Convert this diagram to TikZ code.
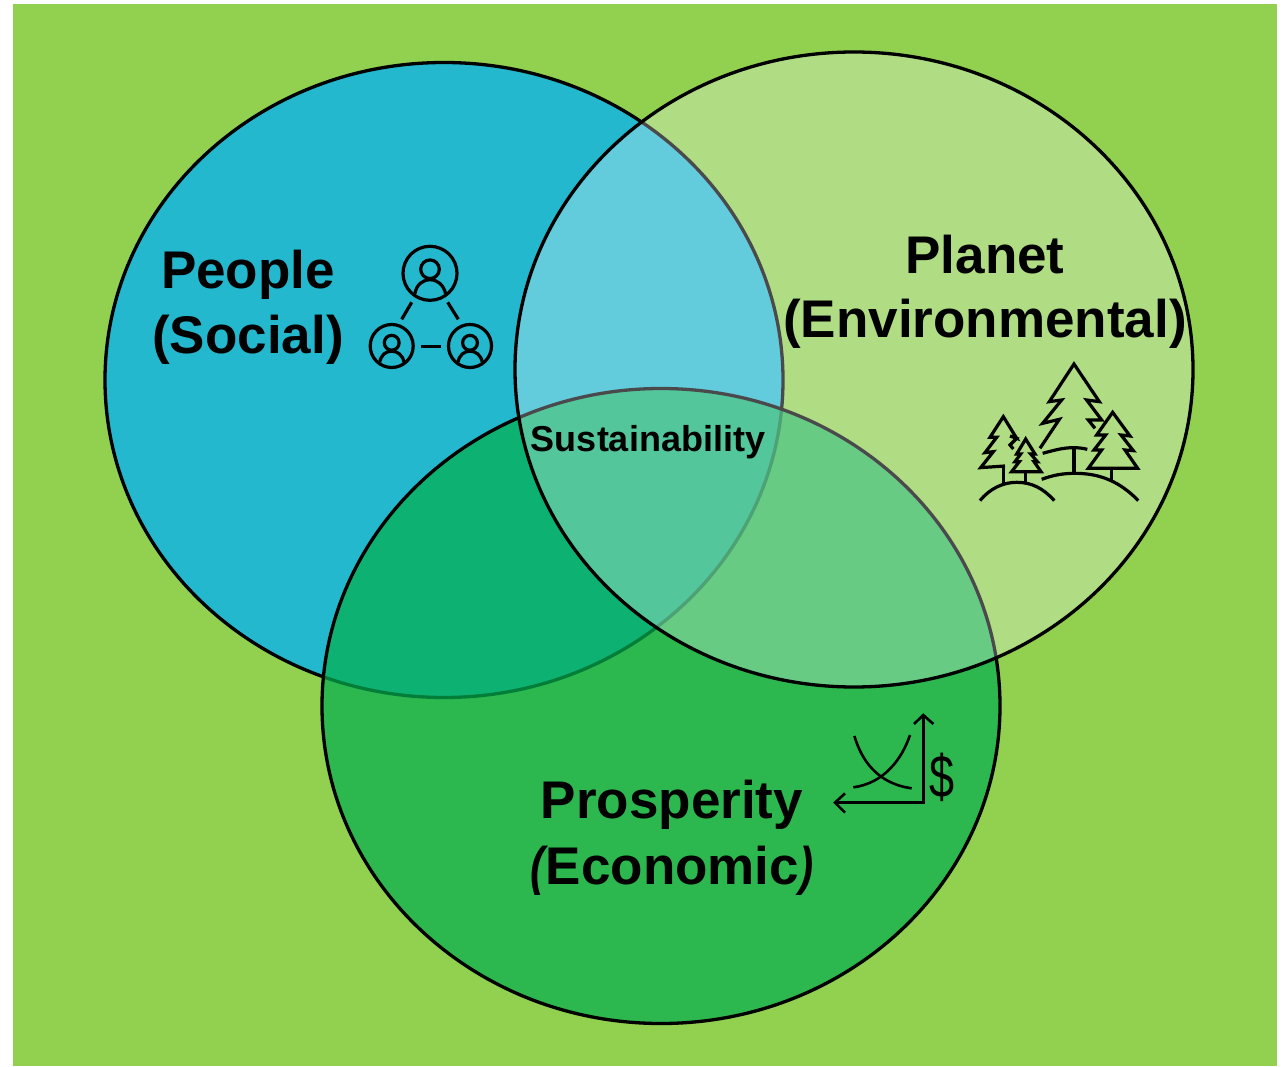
\documentclass[tikz,border=0pt]{standalone}
\usepackage{fontspec}
\setmainfont{Liberation Sans}
\definecolor{bgreen}{HTML}{92D050}
\definecolor{peoplec}{HTML}{23B8CD}
\definecolor{prospc}{HTML}{05AF4E}
\definecolor{planetc}{HTML}{F6F8FF}
\tikzset{
  venn/.style={draw=black,line width=3.3pt},
  title/.style={font=\fontsize{53}{64.5}\selectfont\bfseries,align=center,inner sep=0pt,text=black},
  icon/.style={draw=black,line width=3.2pt,line join=miter,fill=none},
  thin icon/.style={draw=black,line width=2.6pt,fill=none},
  person/.pic={
    \draw[icon] (0,0) circle (1);
    \draw[icon] (0,-.15) circle (.345);
    \draw[icon] (-.56,.76) .. controls (-.5,.42) and (-.28,.24) .. (0,.24) .. controls (.28,.24) and (.5,.42) .. (.58,.76);
  }
}
\begin{document}
\begin{tikzpicture}[x=1pt,y=-1pt]
\useasboundingbox (0,0) rectangle (1288,1067);
\fill[bgreen] (13,4) rectangle (1277,1066);
% circles, in stacking order
\draw[venn,fill=peoplec] (444,380) ellipse [x radius=339,y radius=317.5];
\draw[venn,fill=prospc,fill opacity=.72] (661,706) ellipse [x radius=339,y radius=317.5];
\draw[venn,fill=planetc,fill opacity=.3,draw opacity=1] (854,369.5) ellipse [x radius=339,y radius=317.5];
% labels
\node[title] (people) at (248,307.5) {People\\(Social)};
\node[title] (planet) at (985,292) {Planet\\(Environmental)};
\node[title,font=\fontsize{53}{66}\selectfont\bfseries] (prosperity) at (672,838) {Prosperity\\\scalebox{.8}[1]{\textit{(}}\kern-3pt Economic\scalebox{.8}[1]{\textit{)}}};
\node[font=\fontsize{36}{40}\selectfont\bfseries,inner sep=0pt] (sustain) at (648,442) {Sustainability};
% people icon
\path (430,273.3) pic[x=27pt,y=-27pt] {person};
\path (391.7,346) pic[x=21.5pt,y=-21.5pt] {person};
\path (470,346) pic[x=21.5pt,y=-21.5pt] {person};
\draw[icon] (411.7,302.3) -- (401.7,319.3);
\draw[icon] (447.7,302.3) -- (458.3,319.3);
\draw[icon] (420.7,346.7) -- (441,346.7);
% trees
\begin{scope}[shift={(960,350)},x=.3333pt,y=-.3333pt]
\draw[icon] (240,295) -- (298,208) -- (248,220) -- (305,150) -- (268,155) -- (342,42) -- (418,155) -- (380,150) -- (425,210) -- (385,210) -- (405,235);
\draw[icon] (248,310) .. controls (285,300) and (310,293) .. (342,293) .. controls (355,293) and (370,295) .. (382,298);
\draw[icon] (342,293) -- (342,370);
\draw[icon] (458,187) -- (510,258) -- (483,255) -- (520,302) -- (495,300) -- (533,355) -- (385,355) -- (425,300) -- (402,300) -- (437,255) -- (410,255) -- cycle;
\draw[icon] (455,355) -- (455,395);
\draw[icon] (160,297) -- (150,285) -- (170,265) -- (150,258) -- (170,265) -- (130,200) -- (90,262) -- (110,262) -- (75,308) -- (100,305) -- (62,353) -- (135,348);
\draw[icon] (130,348) -- (130,405);
\draw[icon] (197,267) -- (225,312) -- (212,312) -- (232,335) -- (222,335) -- (243,365) -- (155,365) -- (178,335) -- (165,335) -- (182,312) -- (170,312) -- cycle;
\draw[icon] (197,365) -- (197,395);
\draw[icon] (60,452) .. controls (90,415) and (130,397) .. (170,397) .. controls (215,397) and (250,415) .. (283,452);
\draw[icon] (245,388) .. controls (280,375) and (310,370) .. (345,370) .. controls (420,370) and (480,395) .. (535,452);
\end{scope}
% graph icon
\begin{scope}[shift={(820,700)},x=.3333pt,y=-.3333pt]
\draw[thin icon] (310,45) -- (310,308) -- (45,308);
\draw[thin icon] (282,72) -- (310,45) -- (340,72);
\draw[thin icon] (75,280) -- (45,308) -- (75,338);
\draw[thin icon] (103,108) .. controls (125,180) and (170,250) .. (275,265);
\draw[thin icon] (270,105) .. controls (245,180) and (190,250) .. (100,262);
\end{scope}
\node[font=\fontsize{60}{60}\selectfont,inner sep=0pt] (dollar) at (941.7,777) {\scalebox{.75}[1]{\$}};
\end{tikzpicture}
\end{document}
